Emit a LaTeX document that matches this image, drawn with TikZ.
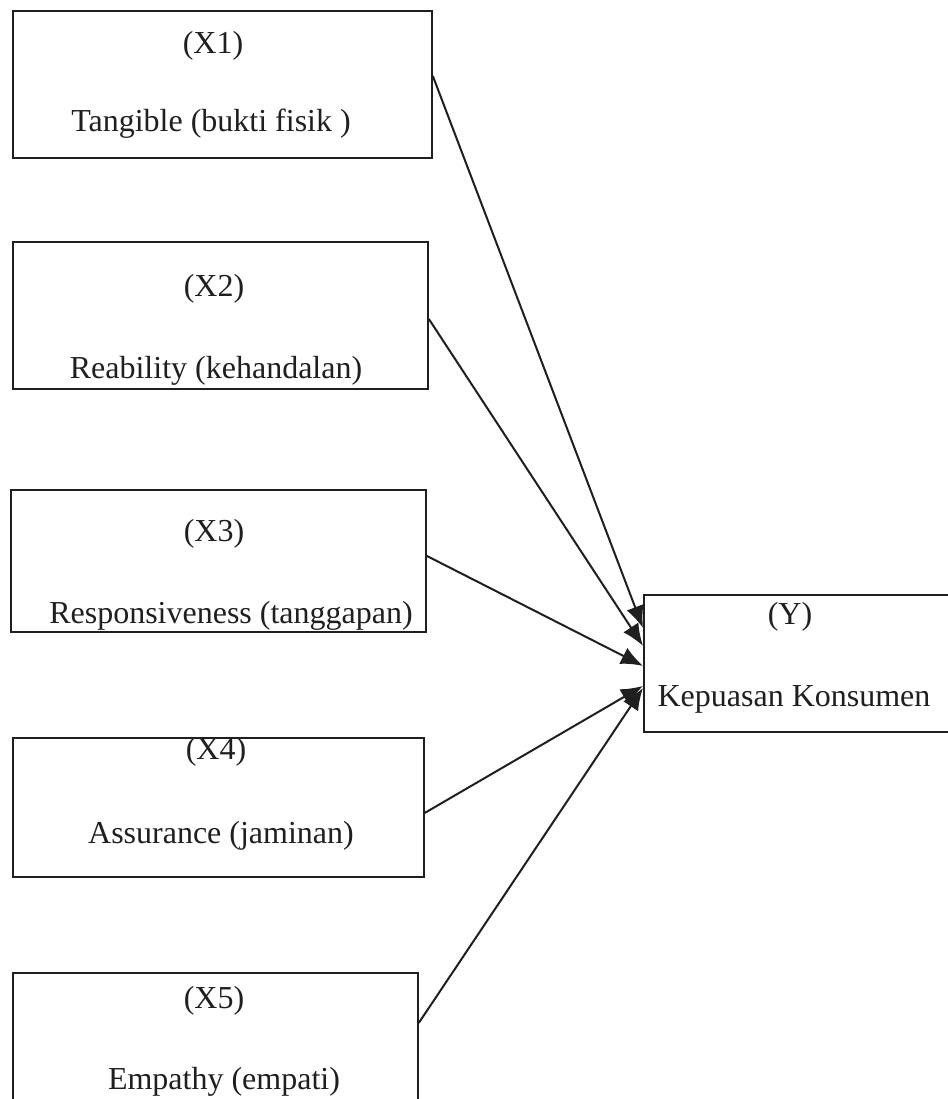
\documentclass[tikz,border=0pt]{standalone}
\usepackage{fontspec}
\setmainfont{Liberation Serif}
\usetikzlibrary{arrows.meta}

\begin{document}
\begin{tikzpicture}[x=0.5pt,y=-0.5pt,
	box/.style={draw=black!88,line width=0.9pt,inner sep=0pt,anchor=north west},
	lbl/.style={anchor=base,inner sep=0pt,text=black!88,font=\fontsize{16}{19}\selectfont},
	link/.style={draw=black!88,line width=1pt,-{Latex[length=11pt,width=9pt]}}]
\useasboundingbox (0,0) rectangle (948,1099);
%
\node[box,minimum width=209.5pt,minimum height=73.5pt] (x1) at (12,10) {};
\node[box,minimum width=207.5pt,minimum height=73.5pt] (x2) at (12,241) {};
\node[box,minimum width=207.5pt,minimum height=71pt] (x3) at (10,489) {};
\node[box,minimum width=205.5pt,minimum height=69.5pt] (x4) at (12,737) {};
\node[box,minimum width=202.5pt,minimum height=70pt] (x5) at (12,972) {};
\node[box,minimum width=154pt,minimum height=68.5pt] (y) at (643,594) {};
%
\node[lbl] (x1a) at (213,53) {(X1)};
\node[lbl] (x1b) at (211,131) {Tangible (bukti fisik )};
\node[lbl] (x2a) at (214,296) {(X2)};
\node[lbl] (x2b) at (216,378) {Reability (kehandalan)};
\node[lbl] (x3a) at (214,541) {(X3)};
\node[lbl] (x3b) at (231,623) {Responsiveness (tanggapan)};
\node[lbl] (x4a) at (216,759) {(X4)};
\node[lbl] (x4b) at (221,843) {Assurance (jaminan)};
\node[lbl] (x5a) at (214,1008) {(X5)};
\node[lbl] (x5b) at (224,1089) {Empathy (empati)};
\node[lbl] (ya) at (790,624) {(Y)};
\node[lbl] (yb) at (794,706) {Kepuasan Konsumen};
%
\draw[link] ([yshift=4.25pt]x1.east) -- ([yshift=17.75pt]y.west);
\draw[link] ([yshift=-1.75pt]x2.east) -- ([yshift=8.75pt]y.west);
\draw[link] ([yshift=2.5pt]x3.east) -- ([yshift=-1.25pt]y.west);
\draw[link] ([yshift=-2.75pt]x4.east) -- ([yshift=-11.25pt]y.west);
\draw[link] ([yshift=10pt]x5.east) -- ([yshift=-12.25pt]y.west);
\end{tikzpicture}
\end{document}
